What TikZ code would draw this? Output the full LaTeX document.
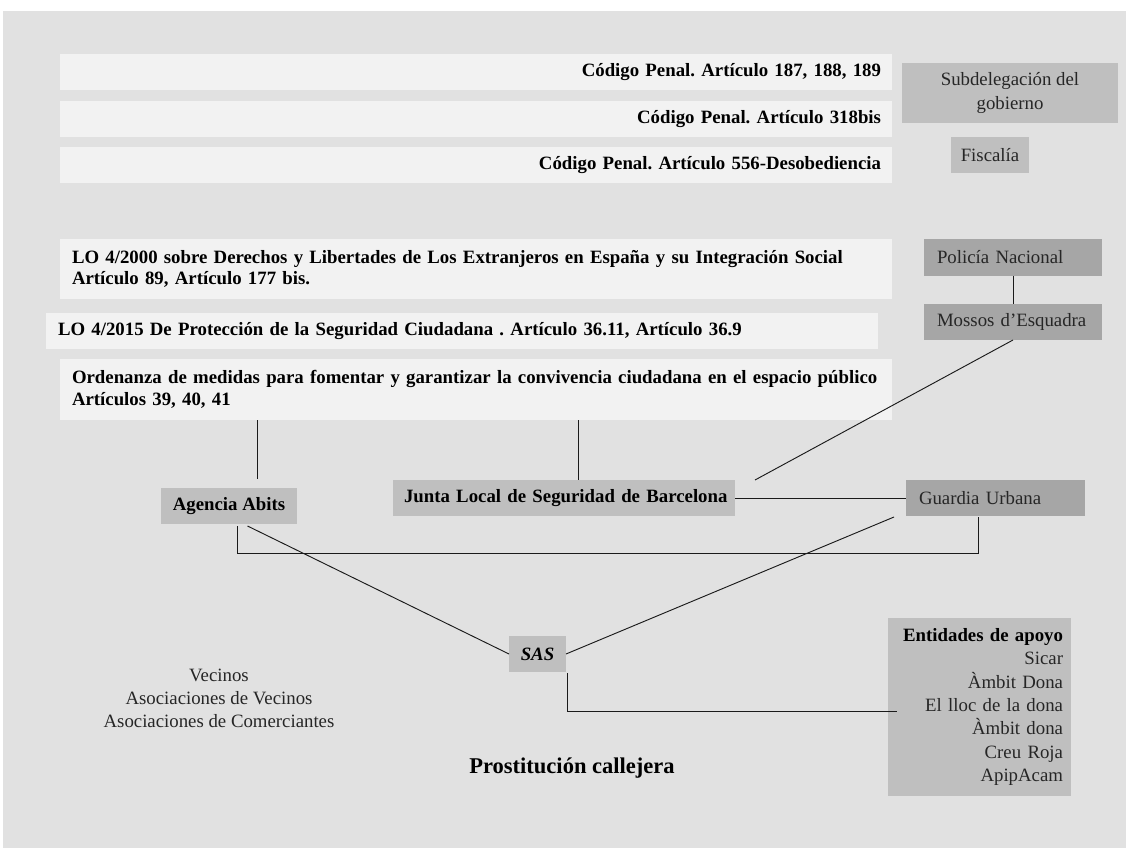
\documentclass[tikz,border=0pt]{standalone}
\usepackage{fontspec}
\setmainfont{Liberation Serif}
\usetikzlibrary{calc}
\frenchspacing

\definecolor{bgpanel}{HTML}{E1E1E1}
\definecolor{lawfill}{HTML}{F2F2F2}
\definecolor{orgfill}{HTML}{BFBFBF}
\definecolor{policefill}{HTML}{A6A6A6}
\definecolor{inktext}{HTML}{262626}
\definecolor{inkline}{HTML}{1A1A1A}

\begin{document}
\begin{tikzpicture}[x=0.75pt,y=-0.75pt,
  every node/.style={inner sep=0pt, outer sep=0pt},
  body/.style={font=\fontsize{14.1pt}{17.5pt}\selectfont, text=inktext},
  bodybold/.style={font=\fontsize{14.1pt}{16.3pt}\selectfont\bfseries, text=black},
  lawbox/.style={bodybold, fill=lawfill, minimum width=624pt},
  coderow/.style={lawbox, align=right, inner xsep=8.25pt, text width=607.5pt, minimum height=27pt},
  lawtwo/.style={lawbox, align=left, inner xsep=9pt, text width=606pt, minimum height=45pt},
  orgbox/.style={fill=orgfill, minimum height=27pt},
  policebox/.style={body, fill=policefill, align=left, inner xsep=9.75pt, minimum height=27pt},
  link/.style={draw=inkline, line width=0.7pt}
]
\useasboundingbox (0,0) rectangle (1126,848);
\fill[white] (0,0) rectangle (1126,848);
\fill[bgpanel] (3,11) rectangle (1126,848);

% Penal code articles
\node[coderow] (cp1) at (476,72)  {Código Penal. Artículo 187, 188, 189};
\node[coderow] (cp2) at (476,119) {Código Penal. Artículo 318bis};
\node[coderow] (cp3) at (476,165) {Código Penal. Artículo 556-Desobediencia};

% State bodies
\node[body, orgbox, minimum width=162pt, minimum height=45pt, align=center] (sub) at (1010,93) {Subdelegación del\\gobierno};
\node[body, orgbox, minimum width=58.5pt] (fis) at (990,155) {Fiscalía};

% Organic laws and by-law
\node[lawtwo] (lo2000) at (476,269) {\mbox{LO 4/2000 sobre Derechos y Libertades de Los Extranjeros en España y su Integración Social}\\Artículo 89, Artículo 177 bis.};
\node[lawbox, align=left, inner xsep=9pt, text width=606pt, minimum height=27pt] (lo2015) at (462,331) {\mbox{LO 4/2015 De Protección de la Seguridad Ciudadana . Artículo 36.11, Artículo 36.9}};
\node[lawtwo, minimum height=45.75pt] (ord) at (476,389.5) {\mbox{Ordenanza de medidas para fomentar y garantizar la convivencia ciudadana en el espacio público}\\Artículos 39, 40, 41};

% Police forces
\node[policebox, text width=114pt, minimum height=27.75pt] (pol) at (1013,257.5) {Policía Nacional};
\node[policebox, text width=114pt] (mos) at (1013,322) {Mossos d’Esquadra};
\node[policebox, text width=114.75pt] (gu) at (995.5,498) {Guardia Urbana};

% Local bodies
\node[bodybold, orgbox, minimum width=256.5pt, inner xsep=8.25pt, text width=240pt, align=left] (jun) at (564,498) {\mbox{Junta Local de Seguridad de Barcelona}};
\node[bodybold, orgbox, minimum width=102pt] (agen) at (229,506) {Agencia Abits};
\node[bodybold, orgbox, minimum width=42.75pt, font=\fontsize{14.1pt}{16.3pt}\selectfont\bfseries\itshape] (sas) at (537.5,654) {SAS};

% Support organisations
\node[body, fill=orgfill, minimum width=137.25pt, minimum height=133.5pt, inner xsep=6pt, text width=125.25pt, align=right] (ent) at (979.5,707)
  {\mbox{\textcolor{black}{\bfseries Entidades de apoyo}}\\Sicar\\Àmbit Dona\\El lloc de la dona\\Àmbit dona\\Creu Roja\\ApipAcam};

% Neighbours
\node[body, align=center] (vec) at (219,698.5) {Vecinos\\Asociaciones de Vecinos\\Asociaciones de Comerciantes};

% Title
\node[font=\fontsize{16.9pt}{20pt}\selectfont\bfseries, text=black] (title) at (572,768) {Prostitución callejera};

% Connectors
\coordinate (abx) at ($(agen.north)+(28,0)$);
\coordinate (jnx) at ($(jun.north)+(14,0)$);
\draw[link, shorten >=6.75pt] (ord.south -| abx) -- (abx);
\draw[link] (ord.south -| jnx) -- (jnx);
\draw[link] (pol.south) -- (mos.north);
\coordinate (mj) at ($(jun.north east)+(20,0)$);
\draw[link] (mos.south) -- (mj);
\draw[link] (jun.east) -- (gu.west);
\draw[link] ($(agen.south)+(8.5,2)$) |- ($(gu.south)+(-17.5,37)$) -- ($(gu.south)+(-17.5,1)$);
\draw[link] ($(agen.south)+(18.5,2)$) -- (sas.west);
\coordinate (gs) at ($(gu.south west)+(-12,1)$);
\draw[link] (gs) -- (sas.east);
\draw[link] ($(sas.south east)+(1.5,1)$) |- ($(ent.west)+(9,4)$);
\end{tikzpicture}
\end{document}
